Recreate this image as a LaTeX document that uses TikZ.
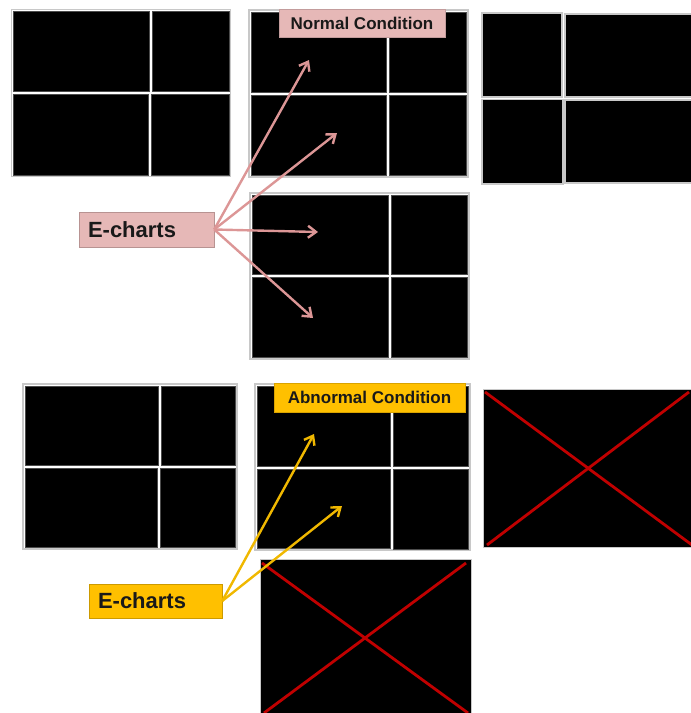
\documentclass[tikz,border=0pt]{standalone}
\usepackage{fontspec}
\setmainfont{Liberation Sans}
\usetikzlibrary{arrows.meta}
\definecolor{pinkfill}{RGB}{230,184,183}
\definecolor{pinkarrow}{RGB}{220,150,150}
\definecolor{goldfill}{RGB}{255,192,0}
\definecolor{goldarrow}{RGB}{240,184,0}
\definecolor{xred}{RGB}{192,0,0}
\definecolor{frame}{RGB}{200,200,200}
\tikzset{
  panel/.style={fill=white,draw=frame,line width=1.4pt},
  cell/.style={fill=black,draw=black!70,line width=0.4pt},
  boxcell/.style={fill=black,draw=frame,line width=1.4pt},
  cross/.style={draw=xred,line width=2.8pt},
  condlabel/.style={font=\bfseries\fontsize{17}{20}\selectfont,inner sep=0pt,text=black!90},
  chartlabel/.style={font=\bfseries\fontsize{22}{26}\selectfont,inner sep=0pt,text=black!90,align=left},
  pinkarr/.style={draw=pinkarrow,line width=2.4pt,-{Straight Barb[length=8pt,width=12pt]}},
  goldarr/.style={draw=goldarrow,line width=2.4pt,-{Straight Barb[length=8pt,width=12pt]}},
}
\begin{document}
\begin{tikzpicture}[x=1pt,y=-1pt]
\useasboundingbox (0,0) rectangle (691,713);
\clip (0,0) rectangle (691,713);
% Panel A (top left)
\draw[panel] (11.5,9.5) rectangle (230.5,176.5);
\draw[cell] (13,11) rectangle (149,91);
\draw[cell] (152,11) rectangle (229,91);
\draw[cell] (13,94) rectangle (148,175);
\draw[cell] (151,94) rectangle (229,175);
% Panel B (top middle)
\draw[panel] (249,10) rectangle (468,177);
\draw[cell] (251,12) rectangle (386,92);
\draw[cell] (389,12) rectangle (466,92);
\draw[cell] (251,95) rectangle (386,175);
\draw[cell] (389,95) rectangle (466,175);
% Panel C (top right)
\draw[boxcell] (482,13) rectangle (562,97);
\draw[boxcell] (482,99.5) rectangle (563,184);
\draw[boxcell] (565,14) rectangle (700,97);
\draw[boxcell] (565,100) rectangle (700,183);
% Panel D (middle)
\draw[panel] (250,193) rectangle (469,359);
\draw[cell] (252,195) rectangle (388,274);
\draw[cell] (391,195) rectangle (467,274);
\draw[cell] (252,277) rectangle (388,357);
\draw[cell] (391,277) rectangle (467,357);
% Panel E (bottom left)
\draw[panel] (23,384) rectangle (237,549);
\draw[cell] (25,386) rectangle (158,465);
\draw[cell] (161,386) rectangle (235,465);
\draw[cell] (25,468) rectangle (157,547);
\draw[cell] (160,468) rectangle (235,547);
% Panel F (bottom middle)
\draw[panel] (255,384) rectangle (470,550);
\draw[cell] (257,386) rectangle (390,466);
\draw[cell] (393,386) rectangle (468,466);
\draw[cell] (257,469) rectangle (390,548);
\draw[cell] (393,469) rectangle (468,549);
% Panel G (bottom, crossed)
\draw[fill=black,draw=frame,line width=1pt] (260,559) rectangle (471,720);
\draw[cross] (262,563) -- (468,713);
\draw[cross] (466,563) -- (264,713);
% Panel H (right, crossed)
\draw[fill=black,draw=frame,line width=1pt] (483,389) rectangle (700,547);
\draw[cross] (485,392) -- (692,545);
\draw[cross] (689,392) -- (487,545);
% Labels
\node[condlabel,fill=pinkfill,draw=pinkfill!85!black,line width=0.3pt,minimum width=166pt,minimum height=28pt] (normal) at (362,23) {Normal Condition};
\node[condlabel,fill=goldfill,draw=goldfill!85!black,line width=0.3pt,minimum width=191pt,minimum height=29pt] (abnormal) at (369.5,397.5) {Abnormal Condition};
\node[chartlabel,fill=pinkfill,draw=pinkfill!80!black,line width=0.4pt,minimum height=35pt,text width=117pt,inner xsep=9pt] (ec1) at (146.5,229.5) {E-charts};
\node[chartlabel,fill=goldfill,draw=goldfill!80!black,line width=0.4pt,minimum height=34pt,text width=115pt,inner xsep=9pt] (ec2) at (155.5,601) {E-charts};
% Arrow targets
\coordinate (p1) at (309,60);
\coordinate (p2) at (337,133);
\coordinate (p3) at (318,232);
\coordinate (p4) at (313,318);
\coordinate (q1) at (314,434);
\coordinate (q2) at (342,506);
% Arrows
\draw[pinkarr] (ec1.east) -- (p1);
\draw[pinkarr] (ec1.east) -- (p2);
\draw[pinkarr] (ec1.east) -- (p3);
\draw[pinkarr] (ec1.east) -- (p4);
\draw[goldarr] (ec2.east) -- (q1);
\draw[goldarr] (ec2.east) -- (q2);
\end{tikzpicture}
\end{document}
